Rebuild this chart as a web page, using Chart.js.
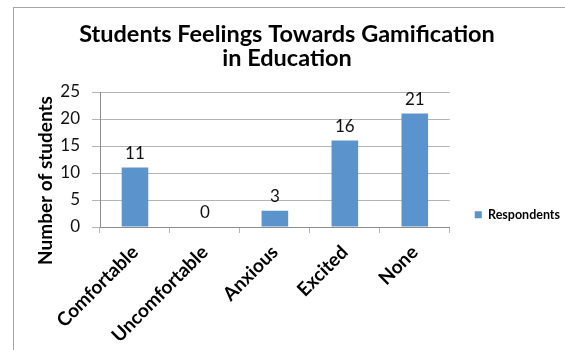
<!DOCTYPE html>
<html>
<head>
<meta charset="utf-8">
<script src="https://cdn.jsdelivr.net/npm/chart.js@4.4.1/dist/chart.umd.min.js"></script>
<style>
  html, body { margin: 0; padding: 0; background: #fff; }
  #wrap { position: relative; width: 565px; height: 350px; overflow: hidden; }
  /* thin frame round the chart, open at right and bottom */
  #frame { position: absolute; left: 13px; top: 7px; right: -2px; bottom: -2px;
           border-left: 1px solid #a6a6a6; border-top: 1px solid #a6a6a6; }
  canvas { position: absolute; left: 0; top: 0; }
</style>
</head>
<body>
<div id="wrap">
  <div id="frame"></div>
  <canvas id="feelings-chart" width="565" height="350"></canvas>
</div>
<script>
let feelings = ["Comfortable", "Uncomfortable", "Anxious", "Excited", "None"];
let respondents = [11, 0, 3, 16, 21];
let yTicks = [0, 5, 10, 15, 20, 25];
let yTitle = "Number of students";

let fontName = "Lato";
let gridColor = "#b4b4b4";
let barColor = "#5b93cc";

// writes each bar's count above it
const barValueLabels = {
  id: "barValueLabels",
  afterDatasetsDraw(chart) {
    let ctx = chart.ctx;
    ctx.save();
    ctx.font = "17px " + fontName;
    ctx.fillStyle = "#111";
    ctx.textAlign = "center";
    ctx.textBaseline = "alphabetic";
    chart.getDatasetMeta(0).data.forEach(function (bar, i) {
      ctx.fillText(String(respondents[i]), bar.x, bar.y - 9);
    });
    ctx.restore();
  },
};

// vertical axis title, sitting a bit below the middle of the plot
const yAxisTitle = {
  id: "yAxisTitle",
  afterDraw(chart) {
    let area = chart.chartArea;
    let ctx = chart.ctx;
    ctx.save();
    ctx.translate(46, (area.top + area.bottom) / 2 + 21);
    ctx.rotate(-Math.PI / 2);
    ctx.font = "bold 19px " + fontName;
    ctx.fillStyle = "#000";
    ctx.textAlign = "center";
    ctx.textBaseline = "middle";
    ctx.fillText(yTitle, 0, 0);
    ctx.restore();
  },
};

// push the legend a little away from the plot
const legendNudge = {
  id: "legendNudge",
  afterLayout(chart) {
    chart.legend.left += 19;
    chart.legend.right += 19;
  },
};

let canvas = document.getElementById("feelings-chart");
let ctx = canvas.getContext("2d");

let chart = new Chart(ctx, {
  type: "bar",
  data: {
    labels: feelings,
    datasets: [
      {
        label: "Respondents",
        data: respondents,
        backgroundColor: barColor,
        borderWidth: 0,
        categoryPercentage: 1,
        barPercentage: 0.38,
      },
    ],
  },
  options: {
    responsive: false,
    animation: false,
    layout: { padding: { left: 23, top: 0, right: 14, bottom: 0 } },
    plugins: {
      tooltip: { enabled: false },
      title: {
        display: true,
        text: ["Students Feelings Towards Gamification", "in Education"],
        color: "#000",
        font: { family: fontName, size: 23.5, weight: "bold", lineHeight: 1.0 },
        padding: { top: 23, bottom: 22 },
      },
      legend: {
        position: "right",
        align: "end",
        fullSize: false,
        labels: {
          color: "#000",
          boxWidth: 7,
          boxHeight: 7,
          padding: 6,
          font: { family: fontName, size: 12.5, weight: "bold" },
        },
      },
    },
    scales: {
      x: {
        afterFit: function (scale) {
          scale.height = 123;
        },
        grid: {
          offset: true,
          drawOnChartArea: false,
          tickLength: 6,
          color: gridColor,
        },
        border: { color: "#8c8c8c" },
        ticks: {
          minRotation: 45,
          maxRotation: 45,
          padding: 8,
          color: "#000",
          font: { family: fontName, size: 19, weight: "bold" },
        },
      },
      y: {
        min: 0,
        max: 25,
        afterFit: function (scale) {
          scale.width = 77;
        },
        afterBuildTicks: function (scale) {
          scale.ticks = yTicks.map((v) => ({ value: v }));
        },
        grid: { color: gridColor, tickLength: 8 },
        border: { color: "#8c8c8c" },
        ticks: {
          padding: 12,
          color: "#111",
          font: { family: fontName, size: 17 },
        },
      },
    },
  },
  plugins: [barValueLabels, yAxisTitle, legendNudge],
});
</script>
</body>
</html>
